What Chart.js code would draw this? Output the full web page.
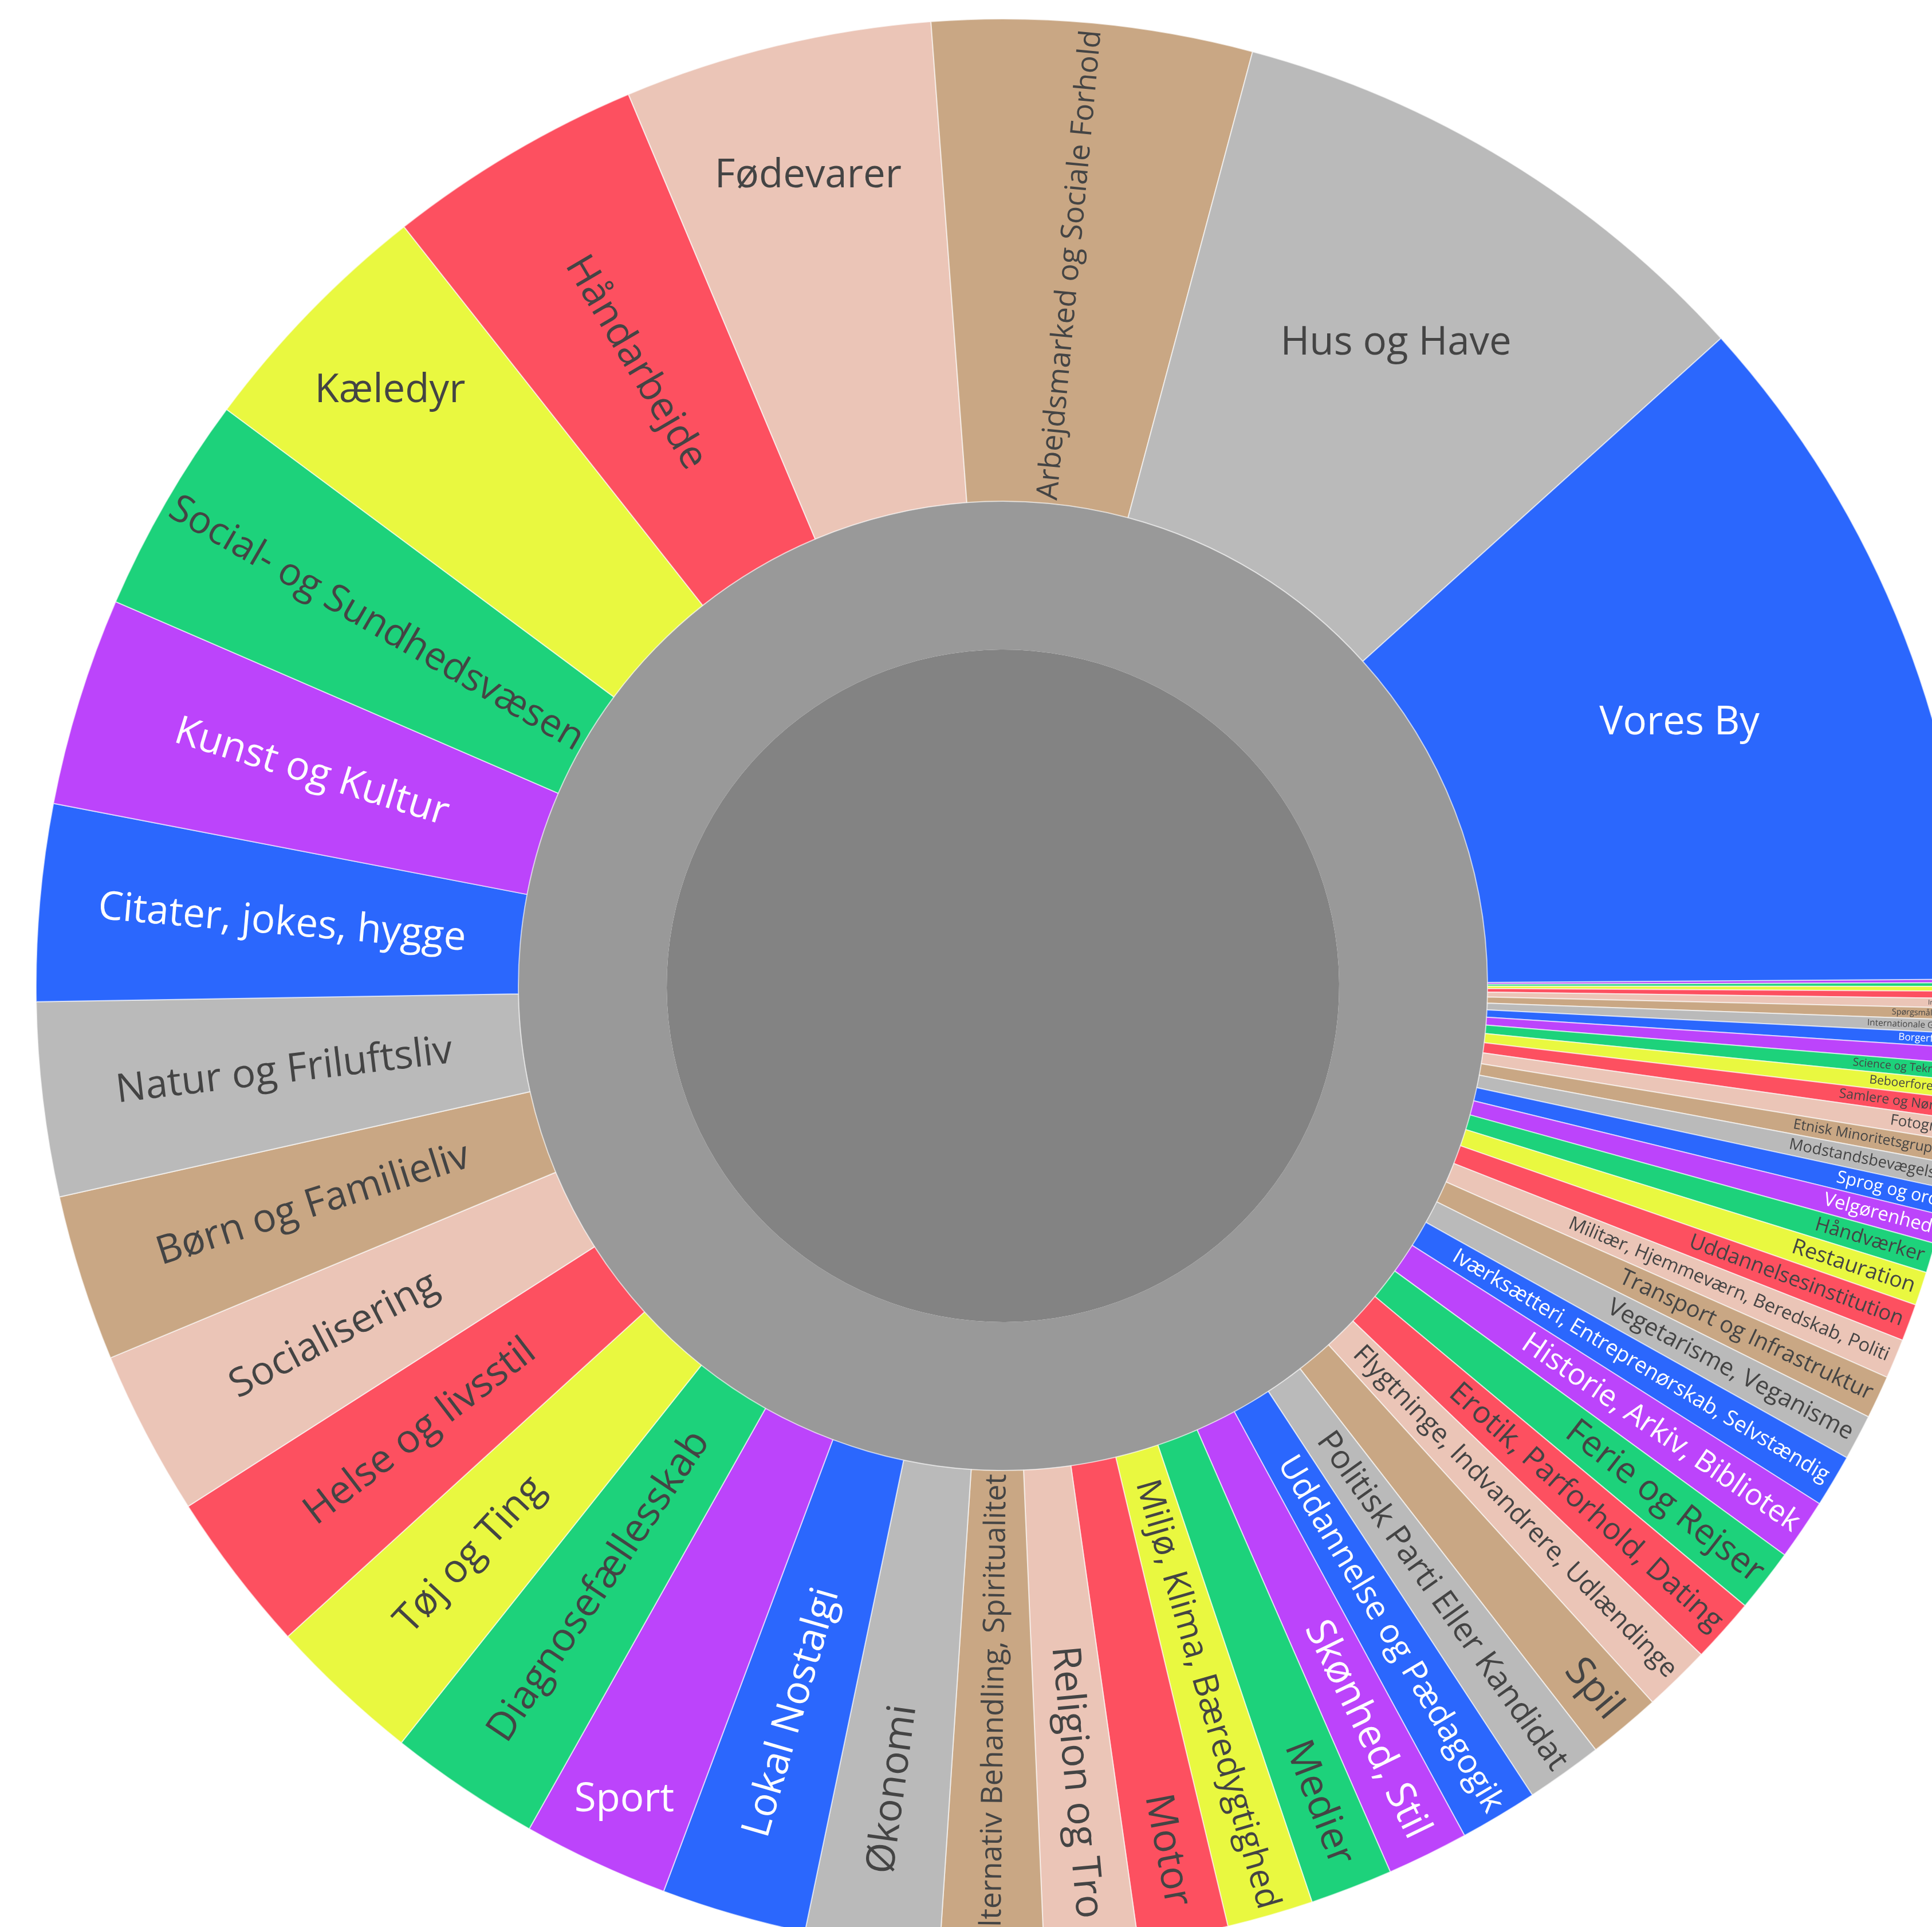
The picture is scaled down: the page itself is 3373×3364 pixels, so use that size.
<!DOCTYPE html>
<html>
<head>
<meta charset="utf-8">
<script src="https://cdn.jsdelivr.net/npm/chart.js@4.4.1/dist/chart.umd.min.js"></script>
<style>
    html, body { margin: 0; padding: 0; background: #ffffff; overflow: hidden; }
    body { width: 3373px; height: 3364px; position: relative; }
    #sun { position: absolute; left: 62px; top: 32px; }
</style>
</head>
<body>
<canvas id="sun" width="3378" height="3378"></canvas>
<script>
"use strict";

// kategorier, største først (læst mod uret fra kl. 3)
const categories = [
    "Vores By", "Hus og Have", "Arbejdsmarked og Sociale Forhold", "Fødevarer",
    "Håndarbejde", "Kæledyr", "Social- og Sundhedsvæsen", "Kunst og Kultur",
    "Citater, jokes, hygge", "Natur og Friluftsliv", "Børn og Familieliv", "Socialisering",
    "Helse og livsstil", "Tøj og Ting", "Diagnosefællesskab", "Sport",
    "Lokal Nostalgi", "Økonomi", "Alternativ Behandling, Spiritualitet", "Religion og Tro",
    "Motor", "Miljø, Klima, Bæredygtighed", "Medier", "Skønhed, Stil",
    "Uddannelse og Pædagogik", "Politisk Parti Eller Kandidat", "Spil", "Flygtninge, Indvandrere, Udlændinge",
    "Erotik, Parforhold, Dating", "Ferie og Rejser", "Historie, Arkiv, Bibliotek", "Iværksætteri, Entreprenørskab, Selvstændig",
    "Vegetarisme, Veganisme", "Transport og Infrastruktur", "Militær, Hjemmeværn, Beredskab, Politi", "Uddannelsesinstitution",
    "Restauration", "Håndværker", "Velgørenhed", "Sprog og ord",
    "Modstandsbevægelse", "Etnisk Minoritetsgruppe", "Fotografi", "Samlere og Nørder",
    "Beboerforening", "Science og Teknologi", "Lgbt+", "Borgerforslag",
    "Internationale Grupper", "Spørgsmål og Svar", "Intet Emne", "Andet",
    "Diverse", "Øvrige", "Ukendt"
];

// antal grupper pr. kategori
const groupCounts = [
    578, 458, 267, 257,
    215, 210, 183, 174,
    164, 162, 139, 138,
    135, 128, 127, 122,
    121, 112, 86, 78,
    75, 72, 69, 68,
    65, 64, 61, 56,
    54, 53, 51, 44,
    38, 36, 33, 31,
    28, 25, 24, 22,
    21, 19, 18, 17,
    15, 14, 13, 12,
    11, 10, 8, 6,
    4, 3, 3
];

const palette = ['#2B67FD', '#BABABA', '#C9A784', '#EBC5B7', '#FD5060', '#E9F840', '#1DD27B', '#BC44FB'];

const FONT_MAX = 69;
const TEXT_PAD = 6;
const LINE_H = 1.36;

// farverne går rundt i paletten, men springer én over efter "Erotik..."
function sliceColor(i) {
    return palette[(i >= 29 ? i + 1 : i) % 8];
}

function textColor(hex) {
    const r = parseInt(hex.slice(1, 3), 16), g = parseInt(hex.slice(3, 5), 16), b = parseInt(hex.slice(5, 7), 16);
    const brightness = (r * 299 + g * 587 + b * 114) / 1000;
    return brightness < 128 ? '#ffffff' : '#444444';
}

/**
 * finder størrelse, placering og retning for en tekst i et stykke
 */
function labelLayout(ctx, text, arc) {
    ctx.font = FONT_MAX + 'px "Open Sans"';
    const w = ctx.measureText(text).width / FONT_MAX;
    const ha = (arc.endAngle - arc.startAngle) / 2;
    const ro = arc.outerRadius, ri = arc.innerRadius;
    const ring = 1 - ri / ro;

    // vandret tekst: rektanglet i en cirkel inde i stykket
    const rIns = Math.max(0, Math.min(1 / (1 + 1 / Math.sin(ha)), ring / 2));
    const scaleH = Math.min(1, 2 * rIns * ro / (Math.hypot(w, LINE_H) * FONT_MAX));

    // radial tekst: så langt ude som muligt
    const outer = ro - 2 * TEXT_PAD, inner = ri + TEXT_PAD;
    const a = w / LINE_H, t = Math.tan(ha);
    let lo = 0, hi = ro;
    for (let k = 0; k < 50; k++) {
        const s = (lo + hi) / 2;
        const e = Math.sqrt(Math.max(0, outer * outer - s * s)) - 2 * a * s;
        if (e >= s / t && e >= inner) lo = s; else hi = s;
    }
    const s = lo;
    const scaleR = Math.min(1, 2 * s / (LINE_H * FONT_MAX));

    if (scaleH >= scaleR) {
        return { radial: false, size: FONT_MAX * scaleH, r: (1 - rIns) * ro };
    }
    return { radial: true, size: FONT_MAX * scaleR, r: Math.sqrt(outer * outer - s * s) - a * s };
}

const labelPlugin = {
    id: 'sliceLabels',
    afterDatasetsDraw(chart) {
        const ctx = chart.ctx;
        const meta = chart.getDatasetMeta(0);
        const colors = chart.data.datasets[0].backgroundColor;
        meta.data.forEach((el, i) => {
            const arc = el.getProps(['x', 'y', 'startAngle', 'endAngle', 'innerRadius', 'outerRadius']);
            const text = chart.data.labels[i];
            const L = labelLayout(ctx, text, arc);
            if (L.size < 7) return;
            const mid = (arc.startAngle + arc.endAngle) / 2;
            ctx.save();
            ctx.translate(arc.x + L.r * Math.cos(mid), arc.y + L.r * Math.sin(mid));
            if (L.radial) {
                ctx.rotate(Math.cos(mid) < 0 ? mid + Math.PI : mid);
            }
            ctx.font = L.size + 'px "Open Sans"';
            ctx.fillStyle = textColor(colors[i]);
            ctx.textAlign = 'center';
            ctx.textBaseline = 'middle';
            ctx.fillText(text, 0, 0);
            ctx.restore();
        });
    }
};

// Chart.js tegner med uret, så de mindste kommer først
const labels = categories.slice().reverse();
const values = groupCounts.slice().reverse();
const colors = categories.map((c, i) => sliceColor(i)).reverse();
const total = groupCounts.reduce((sum, v) => sum + v, 0);

new Chart(document.getElementById('sun'), {
    type: 'doughnut',
    data: {
        labels: labels,
        datasets: [{
            data: values,
            backgroundColor: colors,
            borderColor: 'rgba(255,255,255,0.6)',
            borderWidth: 2,
            weight: 842
        }, {
            data: [total],
            backgroundColor: ['#999999'],
            borderWidth: 0,
            weight: 259
        }, {
            data: [total],
            backgroundColor: ['#838383'],
            borderWidth: 0,
            weight: 587
        }]
    },
    options: {
        responsive: false,
        animation: false,
        devicePixelRatio: 1,
        cutout: 0,
        rotation: 89.6,
        events: [],
        layout: { padding: 0 },
        plugins: {
            legend: { display: false },
            tooltip: { enabled: false }
        }
    },
    plugins: [labelPlugin]
});
</script>
</body>
</html>
